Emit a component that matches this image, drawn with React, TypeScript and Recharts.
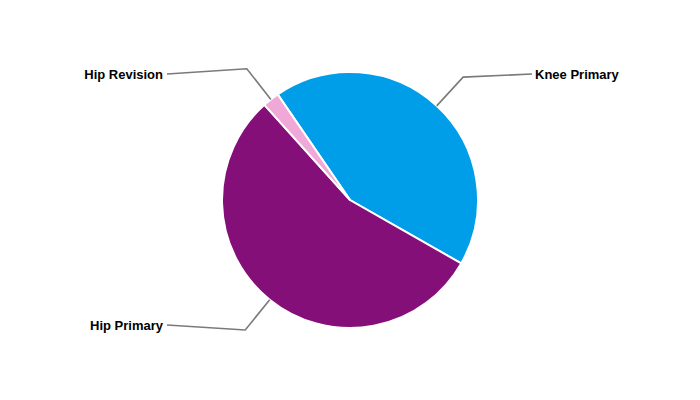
import React from 'react';
import { PieChart, Pie, Cell } from 'recharts';

const categories = ['Knee Primary', 'Hip Primary', 'Hip Revision'];
const values = [42.8, 55.1, 2.1];
const colors = ['#009EE8', '#850F78', '#F0A8D8'];

const data = categories.map((name, i) => ({ name, value: values[i] }));

const RAD = Math.PI / 180;

const renderLabel = (props: any) => {
  const { cx, cy, midAngle, outerRadius, name } = props;
  const cos = Math.cos(-midAngle * RAD);
  const sin = Math.sin(-midAngle * RAD);
  const sx = cx + outerRadius * cos;
  const sy = cy + outerRadius * sin;
  const ex = cx + (outerRadius + 39) * cos;
  const ey = cy + (outerRadius + 39) * sin;
  const right = cos >= 0;
  const tx = cx + (right ? 182 : -183);
  const ty = cy + (sin < 0 ? -126 : 125);
  return (
    <g>
      <path
        d={`M${sx},${sy}L${ex},${ey}L${tx},${ty}`}
        stroke="#7a7a7a"
        strokeWidth={1.6}
        fill="none"
      />
      <text
        x={tx + (right ? 3 : -4)}
        y={ty}
        textAnchor={right ? 'start' : 'end'}
        dominantBaseline="central"
        fontFamily="Arial, 'Liberation Sans', sans-serif"
        fontSize={13}
        fontWeight="bold"
        fill="#000"
      >
        {name}
      </text>
    </g>
  );
};

export default function App() {
  return (
    <div style={{ position: 'absolute', left: 0, top: 0, width: 700, height: 400, background: '#fff' }}>
      <PieChart width={700} height={400} margin={{ top: 0, right: 0, bottom: 0, left: 0 }}>
        <Pie
          data={data}
          dataKey="value"
          nameKey="name"
          cx={350}
          cy={200}
          outerRadius={128}
          startAngle={124.4}
          endAngle={-235.6}
          stroke="#ffffff"
          strokeWidth={2}
          label={renderLabel}
          labelLine={false}
          isAnimationActive={false}
        >
          {data.map((d, i) => (
            <Cell key={d.name} fill={colors[i]} />
          ))}
        </Pie>
      </PieChart>
    </div>
  );
}
